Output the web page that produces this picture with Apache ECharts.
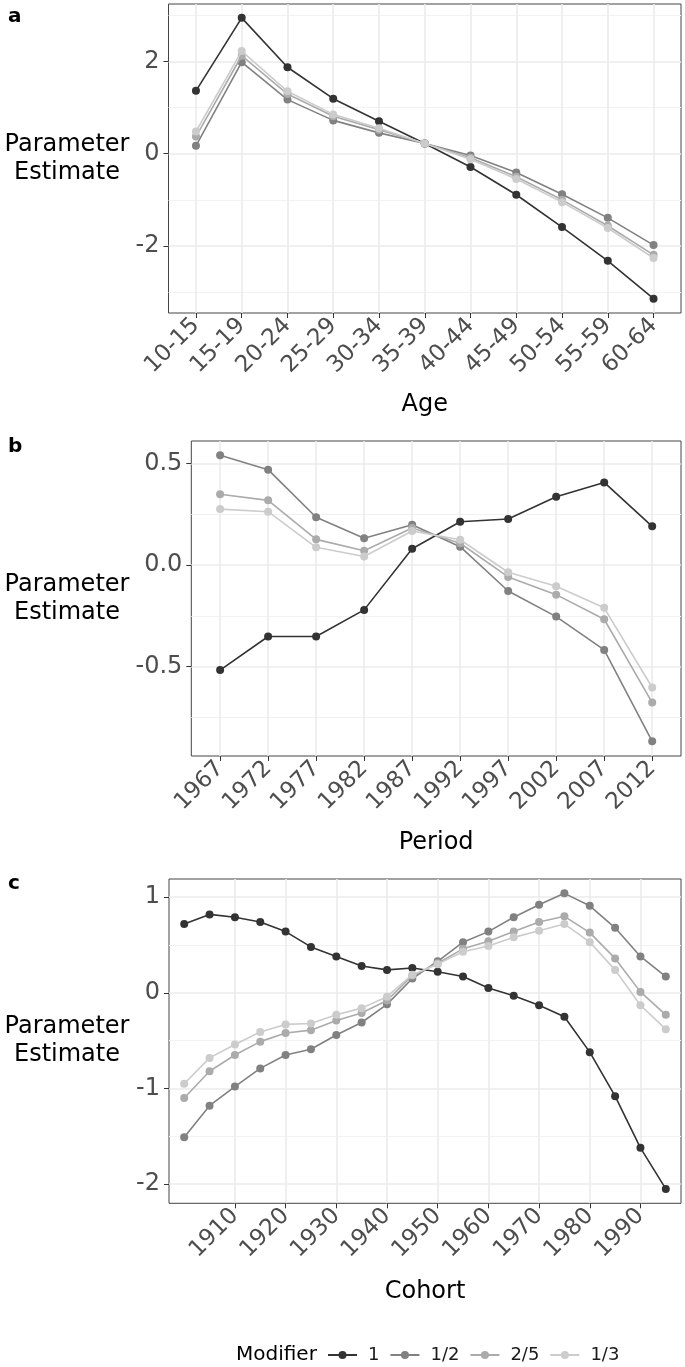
<!DOCTYPE html>
<html>
<head>
<meta charset="utf-8">
<script src="https://cdn.jsdelivr.net/npm/echarts@6.0.0/dist/echarts.min.js"></script>
<style>
    html, body { margin: 0; padding: 0; background: #fff; }
    #chart { width: 685px; height: 1367px; }
</style>
</head>
<body>
<div id="chart"></div>
<script>
const modifiers = ["1", "1/2", "2/5", "1/3"];
const modifierColors = ["#333333", "#818181", "#ababab", "#cccccc"];

// panel a: age
const ageLabels = ["10-15", "15-19", "20-24", "25-29", "30-34", "35-39", "40-44", "45-49", "50-54", "55-59", "60-64"];
const ageM1 = [1.36, 2.94, 1.87, 1.19, 0.70, 0.22, -0.29, -0.89, -1.59, -2.32, -3.14];
const ageM2 = [0.17, 1.98, 1.17, 0.72, 0.45, 0.22, -0.04, -0.41, -0.88, -1.39, -1.98];
const ageM25 = [0.37, 2.12, 1.29, 0.81, 0.52, 0.22, -0.09, -0.50, -1.00, -1.56, -2.19];
const ageM3 = [0.48, 2.22, 1.35, 0.85, 0.55, 0.22, -0.12, -0.55, -1.05, -1.61, -2.26];
const ageTicks = [-2, 0, 2];
const ageMinor = [-3, -1, 1, 3];

// panel b: period
const periodLabels = ["1967", "1972", "1977", "1982", "1987", "1992", "1997", "2002", "2007", "2012"];
const periodM1 = [-0.517, -0.352, -0.352, -0.221, 0.080, 0.213, 0.226, 0.336, 0.406, 0.190];
const periodM2 = [0.540, 0.469, 0.235, 0.131, 0.198, 0.090, -0.128, -0.254, -0.418, -0.868];
const periodM25 = [0.348, 0.318, 0.126, 0.070, 0.182, 0.107, -0.059, -0.146, -0.267, -0.677];
const periodM3 = [0.275, 0.262, 0.087, 0.042, 0.167, 0.124, -0.036, -0.105, -0.211, -0.603];
const periodTicks = [-0.5, 0, 0.5];
const periodMinor = [-0.75, -0.25, 0.25];

// panel c: cohort
const cohortYears = [1900, 1905, 1910, 1915, 1920, 1925, 1930, 1935, 1940, 1945, 1950, 1955, 1960, 1965, 1970, 1975, 1980, 1985, 1990, 1995];
const cohortM1 = [0.72, 0.82, 0.79, 0.74, 0.64, 0.48, 0.38, 0.28, 0.24, 0.26, 0.22, 0.17, 0.05, -0.03, -0.13, -0.25, -0.62, -1.08, -1.62, -2.05];
const cohortM2 = [-1.51, -1.18, -0.98, -0.79, -0.65, -0.59, -0.44, -0.31, -0.12, 0.15, 0.33, 0.53, 0.64, 0.79, 0.92, 1.04, 0.91, 0.68, 0.38, 0.17];
const cohortM25 = [-1.10, -0.82, -0.65, -0.51, -0.42, -0.39, -0.29, -0.21, -0.08, 0.18, 0.31, 0.46, 0.54, 0.64, 0.74, 0.80, 0.63, 0.36, 0.01, -0.23];
const cohortM3 = [-0.95, -0.68, -0.54, -0.41, -0.33, -0.32, -0.23, -0.16, -0.04, 0.19, 0.30, 0.43, 0.49, 0.58, 0.65, 0.72, 0.53, 0.24, -0.13, -0.38];
const cohortXTicks = [1910, 1920, 1930, 1940, 1950, 1960, 1970, 1980, 1990];
const cohortTicks = [-2, -1, 0, 1];
const cohortMinor = [-1.5, -0.5, 0.5];

const font = "DejaVu Sans";
const tickColor = "#4d4d4d";
const majorGrid = { show: true, lineStyle: { color: "#ebebeb", width: 1.6 } };
const minorGrid = { show: true, lineStyle: { color: "#f2f2f2", width: 1 } };

const grids = [
    { left: 168.5, right: 4, top: 4, height: 309 },
    { left: 191.3, right: 4, top: 441, height: 315 },
    { left: 169, right: 4, top: 879, height: 324.3 }
].map((g) => ({ ...g, show: true, borderColor: "#444", borderWidth: 1, backgroundColor: "#fff", containLabel: false, outerBoundsMode: "none" }));

const xAxisBase = (gridIndex, min, max, ticks, formatter, name, nameGap) => ({
    gridIndex,
    type: "value",
    min,
    max,
    axisLine: { show: false, onZero: false },
    axisTick: { show: true, length: 5, lineStyle: { color: "#333", width: 1 }, customValues: ticks },
    axisLabel: {
        customValues: ticks,
        rotate: 45,
        margin: 9,
        padding: [14, 0, 0, 0],
        fontSize: 23,
        color: tickColor,
        fontFamily: font,
        formatter
    },
    splitLine: majorGrid,
    name,
    nameLocation: "middle",
    nameGap,
    nameMoveOverlap: false,
    nameTextStyle: { fontSize: 24, color: "#000", fontFamily: font, verticalAlign: "middle" }
});

const yAxisMajor = (gridIndex, min, max, ticks, formatter, nameGap) => ({
    gridIndex,
    type: "value",
    min,
    max,
    axisLine: { show: false, onZero: false },
    axisTick: { show: true, length: 5, lineStyle: { color: "#333", width: 1 }, customValues: ticks },
    axisLabel: { customValues: ticks, margin: 9, fontSize: 24, color: tickColor, fontFamily: font, formatter },
    splitLine: majorGrid,
    name: "Parameter\nEstimate",
    nameLocation: "middle",
    nameRotate: 0,
    nameGap,
    nameMoveOverlap: false,
    nameTextStyle: { fontSize: 24, color: "#000", fontFamily: font, align: "center", verticalAlign: "middle", lineHeight: 28 }
});

const yAxisMinor = (gridIndex, min, max, ticks) => ({
    gridIndex,
    type: "value",
    position: "left",
    min,
    max,
    axisLine: { show: false, onZero: false },
    axisTick: { show: false, customValues: ticks },
    axisLabel: { show: false, customValues: ticks },
    splitLine: minorGrid,
    z: 0
});

const pairs = (xs, ys) => ys.map((y, i) => [xs[i], y]);
const ageIdx = ageLabels.map((_, i) => i);
const periodIdx = periodLabels.map((_, i) => i);

const panelSeries = (xIndex, yIndex, xs, seriesValues) => seriesValues.map((values, k) => ({
    name: modifiers[k],
    type: "line",
    xAxisIndex: xIndex,
    yAxisIndex: yIndex,
    data: pairs(xs, values),
    symbol: "circle",
    symbolSize: 8,
    z: 3 + k,
    lineStyle: { color: modifierColors[k], width: 1.6 },
    itemStyle: { color: modifierColors[k] },
    emphasis: { disabled: true }
}));

const option = {
    animation: false,
    backgroundColor: "#fff",
    textStyle: { fontFamily: font },
    grid: grids,
    xAxis: [
        xAxisBase(0, -0.6, 10.6, ageIdx, (v) => ageLabels[v] ?? "", "Age", 92),
        xAxisBase(1, -0.6, 9.6, periodIdx, (v) => periodLabels[v] ?? "", "Period", 87),
        xAxisBase(2, 1897, 1998, cohortXTicks, (v) => String(v), "Cohort", 88)
    ],
    yAxis: [
        yAxisMajor(0, -3.45, 3.24, ageTicks, (v) => String(v), 101.5),
        yAxisMinor(0, -3.45, 3.24, ageMinor),
        yAxisMajor(1, -0.94, 0.61, periodTicks, (v) => v.toFixed(1), 124.3),
        yAxisMinor(1, -0.94, 0.61, periodMinor),
        yAxisMajor(2, -2.2, 1.19, cohortTicks, (v) => String(v), 102),
        yAxisMinor(2, -2.2, 1.19, cohortMinor)
    ],
    legend: {
        data: modifiers,
        left: 327,
        top: 1346,
        padding: 0,
        itemWidth: 29,
        itemHeight: 10,
        itemGap: 10,
        selectedMode: false,
        textStyle: { fontSize: 18, color: "#1a1a1a", fontFamily: font, padding: [0, 0, 0, 6] }
    },
    graphic: [
        { type: "text", left: 8, top: 7, style: { text: "a", font: `bold 20px "${font}"`, fill: "#000" } },
        { type: "text", left: 8, top: 437, style: { text: "b", font: `bold 20px "${font}"`, fill: "#000" } },
        { type: "text", left: 8, top: 874, style: { text: "c", font: `bold 20px "${font}"`, fill: "#000" } },
        { type: "text", left: 236, top: 1345, style: { text: "Modifier", font: `20px "${font}"`, fill: "#000" } }
    ],
    series: [
        ...panelSeries(0, 0, ageIdx, [ageM1, ageM2, ageM25, ageM3]),
        ...panelSeries(1, 2, periodIdx, [periodM1, periodM2, periodM25, periodM3]),
        ...panelSeries(2, 4, cohortYears, [cohortM1, cohortM2, cohortM25, cohortM3])
    ]
};

const chart = echarts.init(document.getElementById("chart"), null, { renderer: "canvas" });
chart.setOption(option);
</script>
</body>
</html>
